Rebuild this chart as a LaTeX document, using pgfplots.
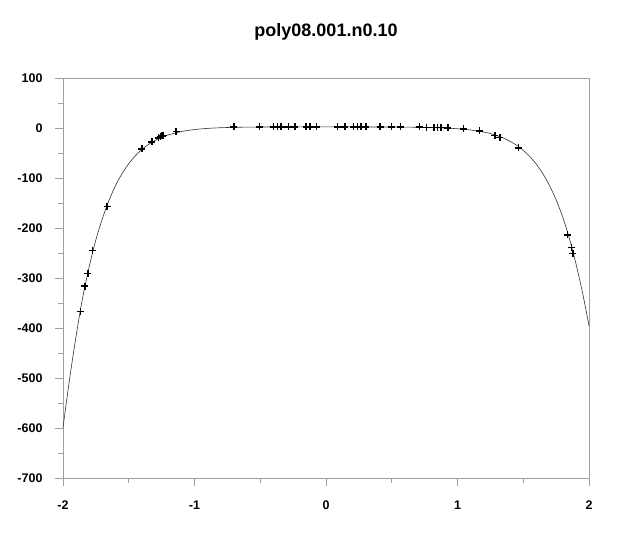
\documentclass[border=0pt]{standalone}
\usepackage{fontspec}
\setmainfont{Liberation Sans}
\usepackage{pgfplots}
\pgfplotsset{compat=1.18}
\begin{document}
\begin{tikzpicture}[x=1pt,y=1pt]
\path[use as bounding box] (-63,-72) rectangle (557,478);
\begin{axis}[
  at={(0pt,0pt)}, anchor=south west,
  scale only axis, width=526pt, height=399.5pt,
  xmin=-2, xmax=2, ymin=-700, ymax=100,
  xtick={-2,-1,0,1,2}, ytick={-700,-600,...,100},
  minor x tick num=1, minor y tick num=1,
  tick align=outside, xtick pos=bottom, ytick pos=left,
  major tick length=8pt, minor tick length=5pt,
  axis line style={draw=gray!75},
  every tick/.style={draw=gray!75, line width=0.8pt},
  /pgf/number format/assume math mode=true,
  ticklabel style={font=\fontsize{12.5}{15}\selectfont\bfseries},
  yticklabel style={xshift=-9pt},
  xticklabel style={yshift=-11pt},
  clip=false,
]
\addplot[black!80, line width=0.6pt, smooth, mark=none] coordinates {
(-2.00,-599) (-1.95,-502) (-1.90,-415) (-1.85,-338) (-1.80,-276)
(-1.75,-223) (-1.70,-180) (-1.65,-144) (-1.60,-114) (-1.55,-90)
(-1.50,-70.5) (-1.45,-54.8) (-1.40,-42.0) (-1.35,-32.0) (-1.30,-24.15)
(-1.25,-17.9) (-1.20,-13.0) (-1.10,-6.26) (-1.00,-2.23) (-0.90,0.11)
(-0.80,1.45) (-0.70,2.2) (-0.60,2.61) (-0.50,2.8) (-0.40,2.93) (-0.30,2.98)
(-0.20,3.0) (0.0,3.0) (0.20,3.0) (0.30,2.98) (0.40,2.93) (0.50,2.83)
(0.60,2.65) (0.70,2.33) (0.80,1.78) (0.90,0.87) (1.00,-0.64) (1.10,-3.16)
(1.20,-7.3) (1.25,-10.3) (1.30,-14.4) (1.35,-19.5) (1.40,-25.9) (1.45,-33.8)
(1.50,-43.8) (1.55,-56.3) (1.60,-71.8) (1.65,-91.0) (1.70,-114.5)
(1.75,-143.0) (1.80,-177.5) (1.85,-219.5) (1.90,-270) (1.95,-328)
(2.00,-395)
};
\addplot[only marks, mark=+, mark size=3.5pt, line width=1.5pt, black] coordinates {
(-1.868,-367) (-1.833,-316) (-1.810,-290) (-1.774,-244) (-1.665,-156)
(-1.401,-41) (-1.325,-27) (-1.272,-19) (-1.258,-17) (-1.247,-15) (-1.237,-14)
(-1.140,-6)
(-0.700,3) (-0.507,3) (-0.401,3) (-0.370,3) (-0.342,3) (-0.287,3) (-0.236,3)
(-0.152,3) (-0.122,3) (-0.071,3) (0.086,3) (0.144,3) (0.208,3) (0.240,3)
(0.266,3) (0.304,3) (0.411,3) (0.498,3) (0.567,3) (0.711,3) (0.764,2)
(0.821,2) (0.848,2) (0.875,2) (0.926,1) (1.044,-1)
(1.166,-5) (1.285,-14) (1.323,-18) (1.465,-39) (1.838,-213) (1.868,-238)
(1.878,-250)
};
\end{axis}
\node[font=\fontsize{18}{22}\selectfont\bfseries] at (263,446) {poly08.001.n0.10};
\end{tikzpicture}
\end{document}
